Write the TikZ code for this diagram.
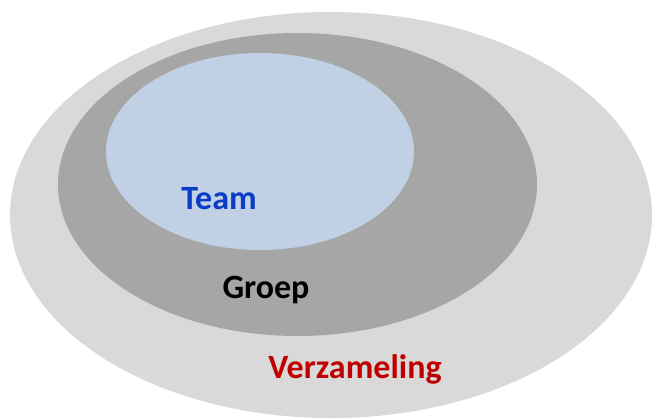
\documentclass[tikz,border=0pt]{standalone}
\usepackage{fontspec}
\setmainfont{Carlito}
\definecolor{outerc}{HTML}{D9D9D9}
\definecolor{midc}{HTML}{A6A6A6}
\definecolor{innerc}{HTML}{C0D0E5}
\definecolor{teamc}{HTML}{0A3CC8}
\definecolor{verzc}{HTML}{C00000}
\begin{document}
\begin{tikzpicture}[x=0.75pt,y=-0.75pt,
  lbl/.style={font=\fontsize{25.5}{29}\selectfont\bfseries, anchor=base, inner sep=0pt}]
\useasboundingbox (0,0) rectangle (653,418);
\fill[outerc] (331,215) ellipse [x radius=321, y radius=203];
\fill[midc] (297.5,184.5) ellipse [x radius=239.5, y radius=151.5];
\fill[innerc] (260,151.5) ellipse [x radius=154, y radius=98.5];
\node[lbl, text=teamc] (team) at (219,209) {Team};
\node[lbl, text=black] (groep) at (266,298) {Groep};
\node[lbl, text=verzc] (verz) at (355,378) {Verzameling};
\end{tikzpicture}
\end{document}
